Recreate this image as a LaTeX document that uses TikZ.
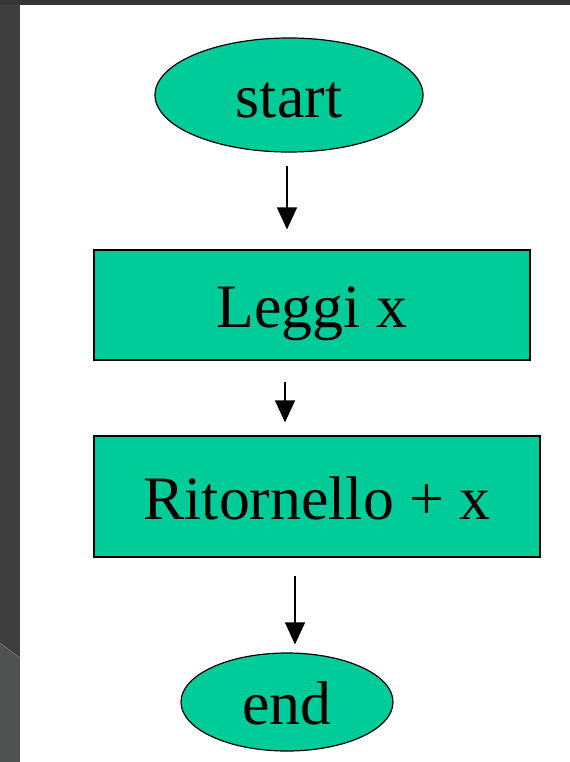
\documentclass[tikz,border=0pt]{standalone}
\usepackage{fontspec}
\setmainfont{Liberation Serif}
\usetikzlibrary{shapes.geometric,arrows.meta,calc}
\definecolor{teal}{RGB}{0,204,153}
\definecolor{darkbg}{RGB}{54,54,54}
\definecolor{stripbg}{RGB}{62,62,62}
\definecolor{lowbg}{RGB}{80,82,82}
\definecolor{edgebg}{RGB}{110,110,110}
\begin{document}
\begin{tikzpicture}[x=1bp,y=-1bp,
  term/.style={ellipse,draw=black,line width=1.2bp,fill=teal,inner sep=0pt,
    font=\fontsize{62}{62}\selectfont,text height=45bp,text depth=0pt},
  proc/.style={rectangle,draw=black,line width=1.2bp,fill=teal,inner sep=0pt,
    font=\fontsize{62}{62}\selectfont,text height=45bp,text depth=0pt},
  arr/.style={line width=1.3bp,-{Triangle[width=20bp,length=22bp]}}]
\useasboundingbox (0,0) rectangle (570,762);
% background
\fill[darkbg] (0,0) rectangle (570,762);
\fill[stripbg] (0,5) rectangle (20,762);
\fill[lowbg] (0,643) -- (20,658) -- (20,762) -- (0,762) -- cycle;
\draw[edgebg,line width=0.8bp] (0,643) -- (20,658);
\fill[white] (20,5) rectangle (570,762);
% nodes
\node[term,minimum width=268bp,minimum height=114bp] (s) at (289,95) {start};
\node[proc,minimum width=436bp,minimum height=110bp] (l) at (312,305) {Leggi x};
\node[proc,minimum width=446bp,minimum height=121bp] (r) at (317,496.5) {Ritornello + x};
\node[term,minimum width=212bp,minimum height=98bp] (e) at (287,702) {end};
% connectors
\draw[arr] ($(s.south)+(-2,13)$) -- ($(s.south |- l.north)+(-2,-20)$);
\draw[arr] ($(l.south)+(-27,21)$) -- ($(l.south |- r.north)+(-27,-13)$);
\draw[arr] ($(e.north |- r.south)+(8,18)$) -- ($(e.north)+(8,-8)$);
\end{tikzpicture}
\end{document}
